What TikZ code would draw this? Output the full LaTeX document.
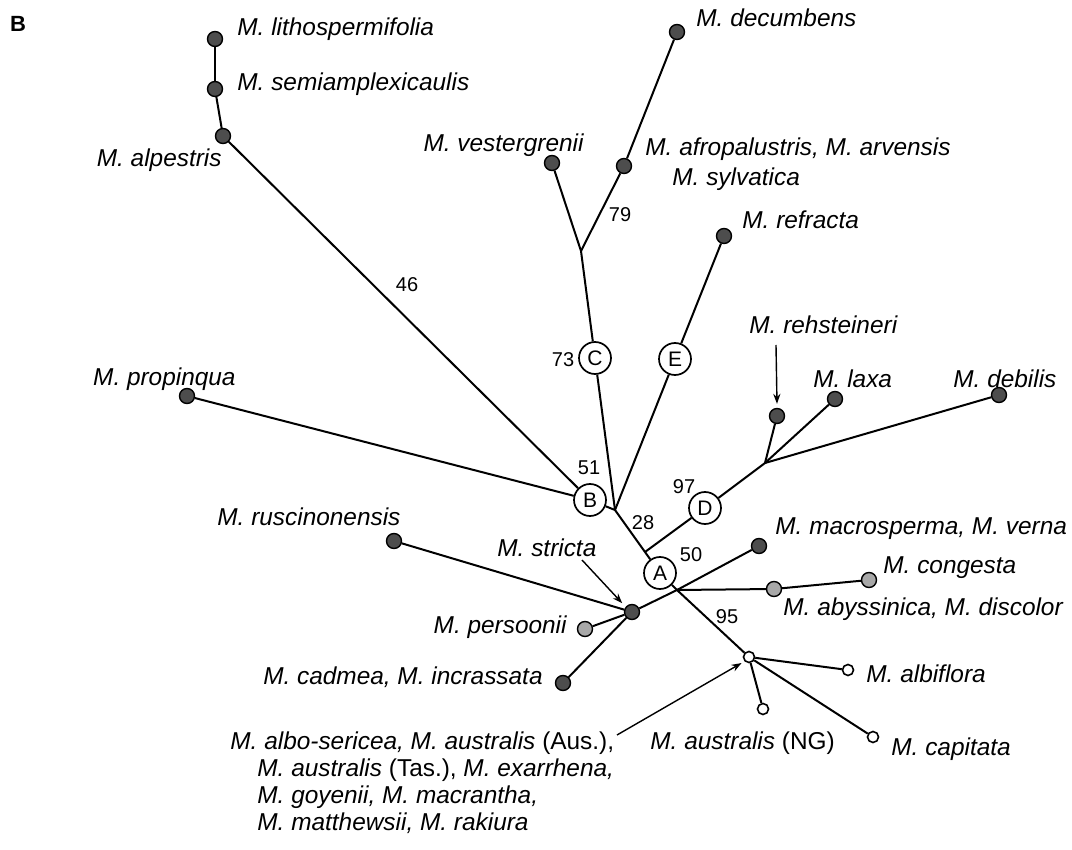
\documentclass[tikz,border=0pt]{standalone}
\usepackage{fontspec}
\setmainfont{Liberation Sans}
\usetikzlibrary{arrows.meta}
\definecolor{dotdark}{HTML}{4D4D4D}
\definecolor{dotlight}{HTML}{A8A8A8}
\begin{document}
\begin{tikzpicture}[x=0.5pt,y=-0.5pt,
  branch/.style={line width=1pt},
  dkdot/.style={circle,draw=black,line width=0.7pt,fill=dotdark,inner sep=0pt,minimum size=7.5pt},
  ltdot/.style={dkdot,fill=dotlight},
  wtdot/.style={circle,draw=black,line width=0.8pt,fill=white,inner sep=0pt,minimum size=5.5pt},
  clade/.style={circle,draw=black,line width=0.85pt,fill=white,inner sep=0pt,minimum size=16pt,font=\fontsize{10.5}{12}\selectfont},
  sp/.style={inner sep=0pt,anchor=base west,font=\fontsize{12.2}{14}\selectfont},
  spr/.style={sp,anchor=base east},
  num/.style={inner sep=0pt,font=\fontsize{10}{12}\selectfont},
  pointer/.style={line width=0.7pt,-{Stealth[length=5pt,width=3.6pt]}}
]
\useasboundingbox (0,0) rectangle (1072,850);

% panel letter
\node[inner sep=0pt,font=\fontsize{11}{13}\selectfont\bfseries] (panel) at (18,24) {B};

% terminal taxa
\node[dkdot] (litho) at (215,39) {};
\node[dkdot] (semi) at (215,89) {};
\node[dkdot] (alpe) at (223,136) {};
\node[dkdot] (decu) at (677,32) {};
\node[dkdot] (vest) at (552,163) {};
\node[dkdot] (afro) at (624,166) {};
\node[dkdot] (refr) at (724,236) {};
\node[dkdot] (rehs) at (777,416) {};
\node[dkdot] (laxa) at (835,399) {};
\node[dkdot] (debi) at (999,395) {};
\node[dkdot] (prop) at (187,396) {};
\node[dkdot] (rusc) at (394,541) {};
\node[dkdot] (stri) at (632,612) {};
\node[ltdot] (pers) at (585,629) {};
\node[dkdot] (cadm) at (563,683) {};
\node[dkdot] (macr) at (759,546) {};
\node[ltdot] (abys) at (774,589) {};
\node[ltdot] (cong) at (869,580) {};
\node[wtdot] (aust) at (749,657) {};
\node[wtdot] (albi) at (848,670) {};
\node[wtdot] (ng) at (763,709) {};
\node[wtdot] (capi) at (873,737) {};

% labelled clades
\node[clade] (A) at (660,573) {A};
\node[clade] (B) at (590,500) {B};
\node[clade] (C) at (595,358) {C};
\node[clade] (D) at (705,508) {D};
\node[clade] (E) at (675,359) {E};

% internal junctions
\coordinate (jCE) at (615,510);
\coordinate (jC) at (581,251);
\coordinate (jD) at (645,552);
\coordinate (jDD) at (765,463);
\coordinate (jA) at (677,590);

% branches
\draw[branch] (litho) -- (semi);
\draw[branch] (semi) -- (alpe);
\draw[branch] (alpe) -- (B);
\draw[branch] (prop) -- (B);
\draw[branch] (B) -- (jCE);
\draw[branch] (C) -- (jCE);
\draw[branch] (E) -- (jCE);
\draw[branch] (C) -- (jC);
\draw[branch] (jC) -- (vest);
\draw[branch] (jC) -- (afro);
\draw[branch] (afro) -- (decu);
\draw[branch] (E) -- (refr);
\draw[branch] (jCE) -- (jD) -- (A);
\draw[branch] (jD) -- (D);
\draw[branch] (D) -- (jDD);
\draw[branch] (jDD) -- (rehs);
\draw[branch] (jDD) -- (laxa);
\draw[branch] (jDD) -- (debi);
\draw[branch] (A) -- (jA);
\draw[branch] (stri) -- (jA) -- (macr);
\draw[branch] (jA) -- (abys);
\draw[branch] (abys) -- (cong);
\draw[branch] (rusc) -- (stri);
\draw[branch] (stri) -- (pers);
\draw[branch] (stri) -- (cadm);
\draw[branch] (jA) -- (aust);
\draw[branch] (aust) -- (albi);
\draw[branch] (aust) -- (ng);
\draw[branch] (aust) -- (capi);

% support values
\node[num] (n46) at (407,285) {46};
\node[num] (n79) at (620,215) {79};
\node[num] (n73) at (563,360) {73};
\node[num] (n51) at (589,468) {51};
\node[num] (n28) at (643,523) {28};
\node[num] (n97) at (684,487) {97};
\node[num] (n50) at (691,555) {50};
\node[num] (n95) at (727,617) {95};

% taxon names
\node[sp] (tlitho) at (237,36) {\itshape M. lithospermifolia};
\node[sp] (tsemi) at (237,91) {\itshape M. semiamplexicaulis};
\node[spr] (talpe) at (222,167) {\itshape M. alpestris};
\node[sp] (tdecu) at (696,27) {\itshape M. decumbens};
\node[spr] (tvest) at (584,152) {\itshape M. vestergrenii};
\node[sp] (tafro) at (645,156) {\itshape M. afropalustris, M. arvensis};
\node[sp] (tsylv) at (672,186) {\itshape M. sylvatica};
\node[sp] (trefr) at (742,229) {\itshape M. refracta};
\node[sp] (trehs) at (749,334) {\itshape M. rehsteineri};
\node[sp] (tlaxa) at (813,387) {\itshape M. laxa};
\node[sp] (tdebi) at (953,387) {\itshape M. debilis};
\node[spr] (tprop) at (236,386) {\itshape M. propinqua};
\node[sp] (trusc) at (217,525) {\itshape M. ruscinonensis};
\node[sp] (tstri) at (497,556) {\itshape M. stricta};
\node[spr] (tpers) at (567,633) {\itshape M. persoonii};
\node[spr] (tcadm) at (543,684) {\itshape M. cadmea, M. incrassata};
\node[sp] (tmacr) at (775,534) {\itshape M. macrosperma, M. verna};
\node[sp] (tcong) at (883,574) {\itshape M. congesta};
\node[sp] (tabys) at (783,615) {\itshape M. abyssinica, M. discolor};
\node[sp] (talbi) at (866,682) {\itshape M. albiflora};
\node[sp] (tng) at (650,749) {\textit{M. australis} (NG)};
\node[sp] (tcapi) at (891,755) {\itshape M. capitata};
\node[sp] (tgrp1) at (230,749) {\textit{M. albo-sericea, M. australis} (Aus.),};
\node[sp] (tgrp2) at (257,776) {\textit{M. australis} (Tas.), \textit{M. exarrhena,}};
\node[sp] (tgrp3) at (257,803) {\itshape M. goyenii, M. macrantha,};
\node[sp] (tgrp4) at (257,830) {\itshape M. matthewsii, M. rakiura};

% pointer arrows
\coordinate (pstri) at (582,560);
\coordinate (prehs) at (776,345);
\coordinate (pgrp) at (617,735);
\draw[pointer] (pstri) -- ([shift={(-2pt,1.5pt)}]stri.north west);
\draw[pointer] (prehs) -- ([yshift=2pt]rehs.north);
\draw[pointer] (pgrp) -- ([shift={(-1.5pt,-0.8pt)}]aust.south west);
\end{tikzpicture}
\end{document}
